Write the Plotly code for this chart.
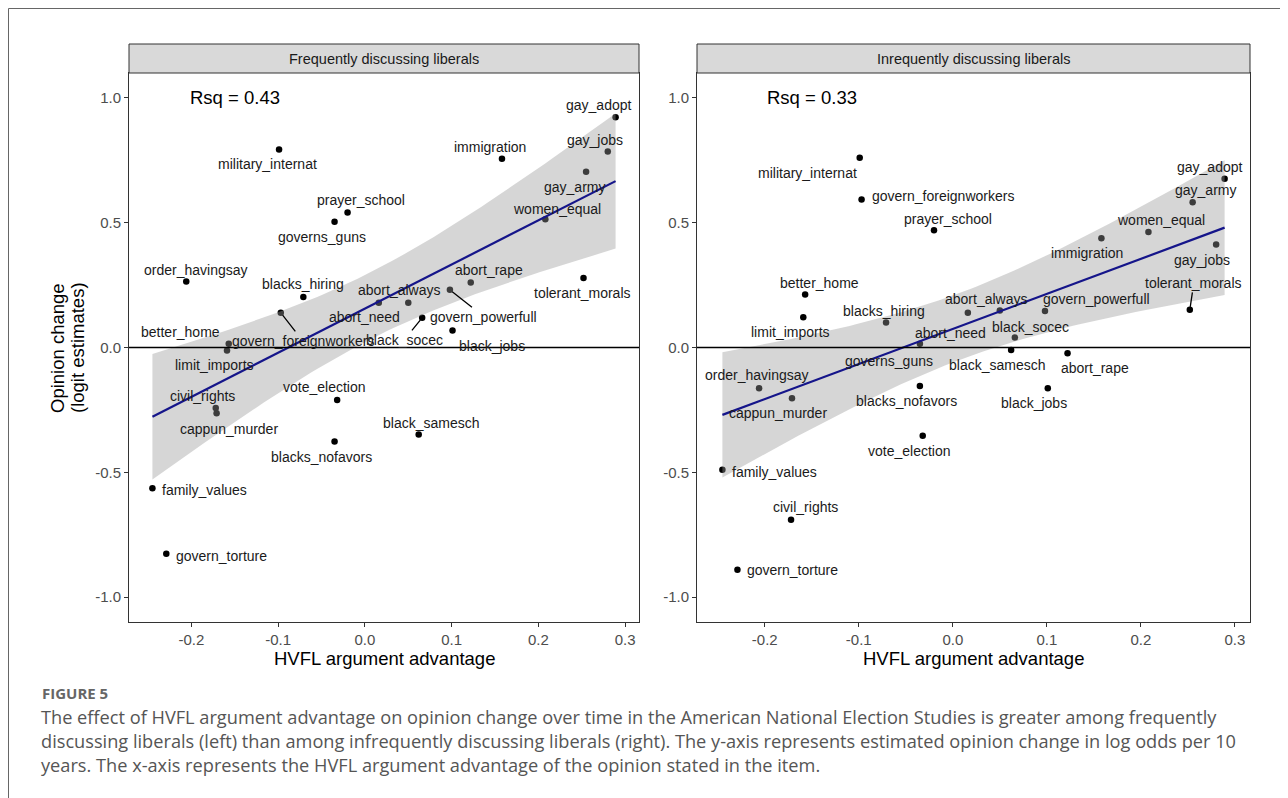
import numpy as np
import plotly.graph_objects as go

# ---------------- data ----------------
items = [
    "military_internat", "prayer_school", "governs_guns", "order_havingsay",
    "blacks_hiring", "govern_foreignworkers", "better_home", "limit_imports",
    "gay_adopt", "gay_jobs", "gay_army", "immigration", "women_equal",
    "abort_rape", "govern_powerfull", "abort_always", "abort_need",
    "black_socec", "black_jobs", "tolerant_morals", "vote_election",
    "civil_rights", "cappun_murder", "black_samesch", "blacks_nofavors",
    "family_values", "govern_torture",
]
hvfl_advantage = [
    -0.099, -0.020, -0.035, -0.206,
    -0.071, -0.097, -0.157, -0.159,
    0.289, 0.280, 0.255, 0.158, 0.208,
    0.122, 0.098, 0.050, 0.016,
    0.066, 0.101, 0.252, -0.032,
    -0.172, -0.171, 0.062, -0.035,
    -0.245, -0.229,
]
change_frequent = [
    0.793, 0.541, 0.504, 0.264,
    0.202, 0.139, 0.015, -0.012,
    0.923, 0.785, 0.704, 0.756, 0.514,
    0.260, 0.231, 0.179, 0.179,
    0.119, 0.068, 0.279, -0.210,
    -0.242, -0.263, -0.349, -0.377,
    -0.564, -0.827,
]
change_infrequent = [
    0.760, 0.470, 0.015, -0.163,
    0.100, 0.593, 0.212, 0.121,
    0.676, 0.413, 0.582, 0.438, 0.463,
    -0.023, 0.146, 0.148, 0.139,
    0.040, -0.163, 0.151, -0.354,
    -0.690, -0.203, -0.010, -0.154,
    -0.490, -0.891,
]
panel_titles = ["Frequently discussing liberals", "Inrequently discussing liberals"]
rsq_labels = ["Rsq = 0.43", "Rsq = 0.33"]
x_tickvals = [-0.2, -0.1, 0.0, 0.1, 0.2, 0.3]
x_ticktext = ["-0.2", "-0.1", "0.0", "0.1", "0.2", "0.3"]
y_tickvals = [-1.0, -0.5, 0.0, 0.5, 1.0]
y_ticktext = ["-1.0", "-0.5", "0.0", "0.5", "1.0"]
x_title = "HVFL argument advantage"
y_title_lines = ["Opinion change", "(logit estimates)"]
fig_label = "FIGURE 5"
caption_lines = [
    "The effect of HVFL argument advantage on opinion change over time in the American National Election Studies is greater among frequently",
    "discussing liberals (left) than among infrequently discussing liberals (right). The y-axis represents estimated opinion change in log odds per 10",
    "years. The x-axis represents the HVFL argument advantage of the opinion stated in the item.",
]

# ---------------- label placement (pixel offsets, style only) ----------------
# (dx, dy, anchor, leader)  dy positive = downwards
label_pos_left = {
    "military_internat": (-12, 14, "center", False),
    "prayer_school": (13, -13, "center", False),
    "governs_guns": (-13, 15, "center", False),
    "order_havingsay": (10, -12, "center", False),
    "blacks_hiring": (0, -13, "center", False),
    "govern_foreignworkers": (22, 28, "center", True),
    "better_home": (-48, -12, "center", False),
    "limit_imports": (-13, 15, "center", False),
    "gay_adopt": (-17, -12, "center", False),
    "gay_jobs": (-13, -12, "center", False),
    "gay_army": (-12, 15, "center", False),
    "immigration": (-12, -12, "center", False),
    "women_equal": (12, -10, "center", False),
    "abort_rape": (18, -13, "center", False),
    "govern_powerfull": (34, 27, "center", True),
    "abort_always": (-9, -13, "center", False),
    "abort_need": (-14, 14, "center", False),
    "black_socec": (-18, 22, "center", True),
    "black_jobs": (39, 15, "center", False),
    "tolerant_morals": (-1, 15, "center", False),
    "vote_election": (-13, -13, "center", False),
    "civil_rights": (-13, -12, "center", False),
    "cappun_murder": (12, 16, "center", False),
    "black_samesch": (13, -12, "center", False),
    "blacks_nofavors": (-13, 15, "center", False),
    "family_values": (8, 2, "left", False),
    "govern_torture": (8, 2, "left", False),
}
label_pos_right = {
    "military_internat": (-52, 15, "center", False),
    "govern_foreignworkers": (8, -4, "left", False),
    "prayer_school": (14, -11, "center", False),
    "better_home": (14, -12, "center", False),
    "limit_imports": (-13, 15, "center", False),
    "blacks_hiring": (-2, -12, "center", False),
    "abort_need": (-17, 20, "center", False),
    "abort_always": (-13, -12, "center", False),
    "governs_guns": (-31, 17, "center", False),
    "black_socec": (16, -11, "center", False),
    "black_samesch": (-14, 15, "center", False),
    "abort_rape": (27, 15, "center", False),
    "gay_adopt": (-15, -12, "center", False),
    "gay_army": (13, -12, "center", False),
    "women_equal": (13, -12, "center", False),
    "immigration": (-14, 15, "center", False),
    "gay_jobs": (-14, 16, "center", False),
    "tolerant_morals": (4, -27, "center", True),
    "govern_powerfull": (52, -12, "center", False),
    "order_havingsay": (-2, -13, "center", False),
    "cappun_murder": (-14, 15, "center", False),
    "blacks_nofavors": (-13, 15, "center", False),
    "black_jobs": (-14, 15, "center", False),
    "vote_election": (-13, 15, "center", False),
    "family_values": (8, 2, "left", False),
    "civil_rights": (14, -13, "center", False),
    "govern_torture": (8, 0, "left", False),
}

# ---------------- geometry ----------------
OFF = 8            # page body margin
W, H = 1280, 790   # figure size (window minus body margin)
def px(x):
    return (x - OFF) / W
def py(y):
    return 1 - (y - OFF) / H

panel_px = [(129, 639), (697, 1250)]
panel_top, panel_bottom = 73, 622
strip_top = 44

FONT = "Liberation Sans, Arial, sans-serif"
TEXT_COL = "#1a1a1a"
TICK_COL = "#4d4d4d"
BORDER_COL = "#333333"

fig = go.Figure()

x_arr = np.array(hvfl_advantage)
series = [np.array(change_frequent), np.array(change_infrequent)]
T_975 = 2.0595  # t quantile, df = n - 2 = 25

for i, yv in enumerate(series):
    xa = "x" if i == 0 else "x2"
    ya = "y" if i == 0 else "y2"
    fig.add_trace(go.Scatter(
        x=x_arr, y=yv, mode="markers", xaxis=xa, yaxis=ya,
        marker=dict(color="black", size=6.5), showlegend=False, hoverinfo="text",
        text=items,
    ))
    n = len(x_arr)
    b1, b0 = np.polyfit(x_arr, yv, 1)
    resid = yv - (b0 + b1 * x_arr)
    s = np.sqrt(np.sum(resid ** 2) / (n - 2))
    xbar = x_arr.mean()
    sxx = np.sum((x_arr - xbar) ** 2)
    xg = np.linspace(x_arr.min(), x_arr.max(), 80)
    yg = b0 + b1 * xg
    se = s * np.sqrt(1.0 / n + (xg - xbar) ** 2 / sxx)
    lo, hi = yg - T_975 * se, yg + T_975 * se
    fig.add_trace(go.Scatter(
        x=np.concatenate([xg, xg[::-1]]), y=np.concatenate([hi, lo[::-1]]),
        xaxis=xa, yaxis=ya, mode="lines", fill="toself",
        fillcolor="rgba(153,153,153,0.4)", line=dict(width=0),
        showlegend=False, hoverinfo="skip",
    ))
    fig.add_trace(go.Scatter(
        x=xg, y=yg, xaxis=xa, yaxis=ya, mode="lines",
        line=dict(color="#15158a", width=2.2), showlegend=False, hoverinfo="skip",
    ))

annotations = []
shapes = []

for i, (x0p, x1p) in enumerate(panel_px):
    xa = "x" if i == 0 else "x2"
    ya = "y" if i == 0 else "y2"
    yv = series[i]
    pos = label_pos_left if i == 0 else label_pos_right
    for name, xv, yy in zip(items, hvfl_advantage, yv):
        dx, dy, anchor, leader = pos[name]
        if leader:
            annotations.append(dict(
                x=xv, y=yy, xref=xa, yref=ya, text=name, showarrow=True,
                ax=dx, ay=dy, arrowhead=0, arrowwidth=1.3, arrowcolor="black",
                standoff=3, font=dict(family=FONT, size=14, color=TEXT_COL),
            ))
        else:
            annotations.append(dict(
                x=xv, y=yy, xref=xa, yref=ya, text=name, showarrow=False,
                xanchor=anchor, yanchor="middle", xshift=dx, yshift=-dy,
                font=dict(family=FONT, size=14, color=TEXT_COL),
            ))
    annotations.append(dict(
        x=-0.15, y=1.0, xref=xa, yref=ya, text=rsq_labels[i], showarrow=False,
        xanchor="center", yanchor="middle",
        font=dict(family=FONT, size=18.5, color="black"),
    ))
    shapes.append(dict(
        type="rect", xref="paper", yref="paper",
        x0=px(x0p), x1=px(x1p), y0=py(panel_top), y1=py(strip_top),
        fillcolor="#d9d9d9", line=dict(color=BORDER_COL, width=1), layer="above",
    ))
    annotations.append(dict(
        x=px((x0p + x1p) / 2), y=py((strip_top + panel_top) / 2 + 0.5),
        xref="paper", yref="paper", text=panel_titles[i], showarrow=False,
        xanchor="center", yanchor="middle",
        font=dict(family=FONT, size=14.5, color="#1a1a1a"),
    ))
    annotations.append(dict(
        x=px((x0p + x1p) / 2), y=py(658), xref="paper", yref="paper",
        text=x_title, showarrow=False, xanchor="center", yanchor="middle",
        font=dict(family=FONT, size=18.5, color="black"),
    ))
    shapes.append(dict(
        type="line", xref=xa + " domain", yref=ya, x0=0, x1=1, y0=0, y1=0,
        line=dict(color="black", width=1.4), layer="above",
    ))

for txt, xc in zip(y_title_lines, [57, 77]):
    annotations.append(dict(
        x=px(xc), y=py(348), xref="paper", yref="paper", text=txt,
        showarrow=False, textangle=-90, xanchor="center", yanchor="middle",
        font=dict(family=FONT, size=18.5, color="black"),
    ))

annotations.append(dict(
    x=px(40), y=py(693), xref="paper", yref="paper", text="<b>" + fig_label + "</b>",
    showarrow=False, xanchor="left", yanchor="middle",
    font=dict(family="Open Sans, sans-serif", size=15, color="#666666"),
))
for txt, yc in zip(caption_lines, [717, 741, 765]):
    annotations.append(dict(
        x=px(39), y=py(yc), xref="paper", yref="paper", text=txt,
        showarrow=False, xanchor="left", yanchor="middle",
        font=dict(family="Open Sans, sans-serif", size=18.2, color="#555555"),
    ))

# outer frame (top and left edges)
shapes.append(dict(type="line", xref="paper", yref="paper",
                   x0=0.5 / W, x1=1, y0=1 - 0.5 / H, y1=1 - 0.5 / H,
                   line=dict(color="#666666", width=1)))
shapes.append(dict(type="line", xref="paper", yref="paper",
                   x0=0.5 / W, x1=0.5 / W, y0=1 - 0.5 / H, y1=0,
                   line=dict(color="#666666", width=1)))

def xaxis_cfg(dom, anchor):
    return dict(
        domain=dom, anchor=anchor, range=[-0.272, 0.316],
        tickvals=x_tickvals, ticktext=x_ticktext,
        ticks="outside", ticklen=4, tickwidth=1, tickcolor=BORDER_COL,
        showline=True, mirror=True, linecolor=BORDER_COL, linewidth=1,
        showgrid=False, zeroline=False,
        tickfont=dict(family=FONT, size=15, color=TICK_COL),
    )

def yaxis_cfg(anchor):
    return dict(
        domain=[py(panel_bottom), py(panel_top)], anchor=anchor, range=[-1.1, 1.1],
        tickvals=y_tickvals, ticktext=y_ticktext,
        ticks="outside", ticklen=4, tickwidth=1, tickcolor=BORDER_COL,
        showline=True, mirror=True, linecolor=BORDER_COL, linewidth=1,
        showgrid=False, zeroline=False,
        tickfont=dict(family=FONT, size=15, color=TICK_COL),
    )

fig.update_layout(
    width=W, height=H,
    margin=dict(l=0, r=0, t=0, b=0),
    paper_bgcolor="white", plot_bgcolor="white",
    showlegend=False,
    xaxis=xaxis_cfg([px(panel_px[0][0]), px(panel_px[0][1])], "y"),
    yaxis=yaxis_cfg("x"),
    xaxis2=xaxis_cfg([px(panel_px[1][0]), px(panel_px[1][1])], "y2"),
    yaxis2=yaxis_cfg("x2"),
    annotations=annotations,
    shapes=shapes,
)

fig.write_html("out.html")
